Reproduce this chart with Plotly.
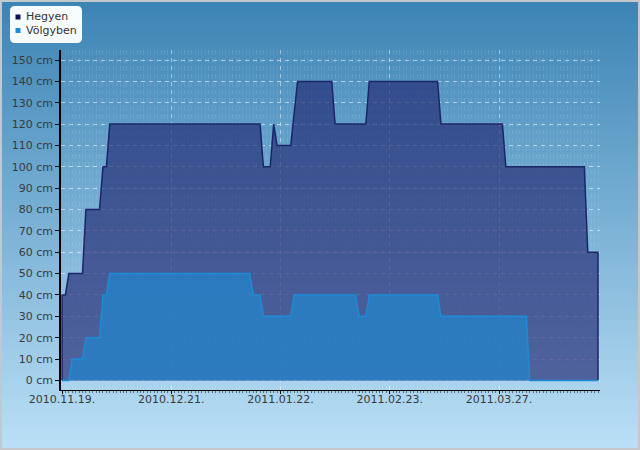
import plotly.graph_objects as go
import pandas as pd

# ---------------- data ----------------
start_date = "2010-11-19"
series_names = ["Hegyen", "Völgyben"]

hegyen = [
    40, 40, 50, 50, 50, 50, 50, 80, 80, 80, 80, 80, 100, 100,
    120, 120, 120, 120, 120, 120, 120, 120, 120, 120, 120, 120, 120, 120, 120,
    120, 120, 120, 120, 120, 120, 120, 120, 120, 120, 120, 120, 120, 120, 120,
    120, 120, 120, 120, 120, 120, 120, 120, 120, 120, 120, 120, 120, 120, 120,
    100, 100, 100, 120, 110, 110, 110, 110, 110, 125,
    140, 140, 140, 140, 140, 140, 140, 140, 140, 140, 140,
    120, 120, 120, 120, 120, 120, 120, 120, 120, 120,
    140, 140, 140, 140, 140, 140, 140, 140, 140, 140, 140,
    140, 140, 140, 140, 140, 140, 140, 140, 140, 140,
    120, 120, 120, 120, 120, 120, 120, 120, 120, 120,
    120, 120, 120, 120, 120, 120, 120, 120, 120,
    100, 100, 100, 100, 100, 100, 100, 100, 100, 100, 100, 100,
    100, 100, 100, 100, 100, 100, 100, 100, 100, 100, 100, 100,
    60, 60, 60, 60,
]

volgyben = [
    0, 0, 0, 10, 10, 10, 10, 20, 20, 20, 20, 20, 40, 40,
    50, 50, 50, 50, 50, 50, 50, 50, 50, 50, 50, 50, 50, 50,
    50, 50, 50, 50, 50, 50, 50, 50, 50, 50, 50, 50, 50, 50,
    50, 50, 50, 50, 50, 50, 50, 50, 50, 50, 50, 50, 50, 50,
    40, 40, 40,
    30, 30, 30, 30, 30, 30, 30, 30, 30,
    40, 40, 40, 40, 40, 40, 40, 40, 40, 40, 40, 40, 40, 40, 40, 40, 40, 40, 40,
    30, 30, 30,
    40, 40, 40, 40, 40, 40, 40, 40, 40, 40, 40,
    40, 40, 40, 40, 40, 40, 40, 40, 40, 40,
    30, 30, 30, 30, 30, 30, 30, 30, 30, 30, 30, 30, 30,
    30, 30, 30, 30, 30, 30, 30, 30, 30, 30, 30, 30, 30,
    0, 0, 0, 0, 0, 0, 0, 0, 0, 0, 0,
    0, 0, 0, 0, 0, 0, 0, 0, 0, 0,
]

tick_dates = ["2010-11-19", "2010-12-21", "2011-01-22", "2011-02-23", "2011-03-27"]
tick_labels = ["2010.11.19.", "2010.12.21.", "2011.01.22.", "2011.02.23.", "2011.03.27."]
y_tick_values = [0, 10, 20, 30, 40, 50, 60, 70, 80, 90, 100, 110, 120, 130, 140, 150]
y_tick_labels = [f"{v} cm" for v in y_tick_values]

dates = pd.date_range(start_date, periods=len(hegyen), freq="D")

# ---------------- layout geometry ----------------
W, H = 640, 450
PL, PR, PT, PB = 61, 600, 50, 390  # plot area in pixels


def fx(px):
    return (px - PL) / (PR - PL)


def fy(py):
    return (PB - py) / (PB - PT)


shapes = []
# vertical background gradient
top_c = (60, 132, 181)
bot_c = (186, 223, 246)
n_bands = 90
for i in range(n_bands):
    t = i / (n_bands - 1)
    c = tuple(int(round(top_c[k] + (bot_c[k] - top_c[k]) * t)) for k in range(3))
    y0 = i * H / n_bands
    y1 = (i + 1) * H / n_bands + 0.5
    shapes.append(dict(type="rect", xref="paper", yref="paper", layer="below",
                       x0=fx(0), x1=fx(W), y0=fy(y1), y1=fy(y0),
                       fillcolor=f"rgb{c}", line=dict(width=0)))

# outer border
shapes.append(dict(type="rect", xref="paper", yref="paper", layer="above",
                   x0=fx(1), x1=fx(W - 1), y0=fy(H - 1), y1=fy(1),
                   line=dict(color="#c4c8cc", width=2), fillcolor="rgba(0,0,0,0)"))

# legend box (rounded)
bx0, bx1, by0, by1, r = 10, 82, 6, 43, 5
def P(x, y):
    return f"{fx(x)},{fy(y)}"
path = (f"M {P(bx0 + r, by0)} L {P(bx1 - r, by0)} Q {P(bx1, by0)} {P(bx1, by0 + r)} "
        f"L {P(bx1, by1 - r)} Q {P(bx1, by1)} {P(bx1 - r, by1)} "
        f"L {P(bx0 + r, by1)} Q {P(bx0, by1)} {P(bx0, by1 - r)} "
        f"L {P(bx0, by0 + r)} Q {P(bx0, by0)} {P(bx0 + r, by0)} Z")
shapes.append(dict(type="path", xref="paper", yref="paper", layer="above", path=path,
                   fillcolor="rgba(250,253,255,0.98)", line=dict(width=0)))

legend_colors = ["#0d0d5e", "#1d8fd8"]
legend_rows = [17, 30.5]
annotations = []
for name, col, yc in zip(series_names, legend_colors, legend_rows):
    shapes.append(dict(type="rect", xref="paper", yref="paper", layer="above",
                       x0=fx(15.5), x1=fx(20.5), y0=fy(yc + 2.5), y1=fy(yc - 2.5),
                       fillcolor=col, line=dict(width=0)))
    annotations.append(dict(xref="paper", yref="paper", x=fx(24), y=fy(yc),
                            xanchor="left", yanchor="middle", text=name, showarrow=False,
                            font=dict(family="DejaVu Sans", size=11, color="#333333")))

fig = go.Figure()

hx = [dates[0]] + list(dates) + [dates[-1]]
hy = [0] + hegyen + [0]
fig.add_trace(go.Scatter(
    x=hx, y=hy, name=series_names[0], mode="lines", fill="tozeroy",
    fillcolor="rgba(33,39,114,0.66)",
    line=dict(color="#1b2669", width=1.5), showlegend=False, hoverinfo="skip"))

fig.add_trace(go.Scatter(
    x=dates, y=volgyben, name=series_names[1], mode="lines", fill="tozeroy",
    fillcolor="rgba(40,128,198,0.85)",
    line=dict(color="#1e8bd6", width=1.5), showlegend=False, hoverinfo="skip"))

x_start = pd.Timestamp(start_date) - pd.Timedelta(hours=7)
x_end = dates[-1] + pd.Timedelta(hours=14)

fig.update_layout(
    width=W, height=H,
    margin=dict(l=PL, r=W - PR, t=PT, b=H - PB),
    paper_bgcolor="rgba(0,0,0,0)",
    plot_bgcolor="rgba(0,0,0,0)",
    showlegend=False,
    shapes=shapes,
    annotations=annotations,
    font=dict(family="DejaVu Sans", size=11, color="#3a3a3a"),
    xaxis=dict(
        type="date", range=[x_start, x_end],
        tickvals=tick_dates, ticktext=tick_labels,
        showline=True, linecolor="#000000", linewidth=1,
        ticks="outside", ticklen=3, tickcolor="#000000",
        ticklabelstandoff=-4,
        showgrid=True, gridcolor="rgba(255,255,255,0.45)", griddash="4px,4px", gridwidth=1,
        zeroline=False,
        minor=dict(dtick=86400000, tick0=start_date, ticks="outside", ticklen=2,
                   tickcolor="#5a6a78", showgrid=True,
                   gridcolor="rgba(255,255,255,0.10)", griddash="5px,3px", gridwidth=1),
        tickfont=dict(family="DejaVu Sans", size=11, color="#3a3a3a"),
    ),
    yaxis=dict(
        range=[-4.5, 154.7],
        tickvals=y_tick_values, ticktext=y_tick_labels,
        showline=True, linecolor="#000000", linewidth=1.5,
        ticks="outside", ticklen=4, tickcolor="#000000",
        showgrid=True, gridcolor="rgba(255,255,255,0.55)", griddash="4px,4px", gridwidth=1,
        zeroline=False,
        tickfont=dict(family="DejaVu Sans", size=11, color="#3a3a3a"),
    ),
)

fig.write_html("out.html")
